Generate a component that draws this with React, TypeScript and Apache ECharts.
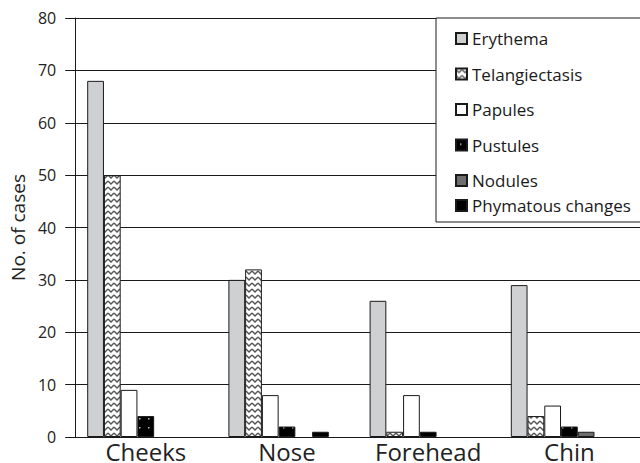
import React, { useEffect, useRef } from "react";
import * as echarts from "echarts";

const categories = ["Cheeks", "Nose", "Forehead", "Chin"];
const seriesNames = ["Erythema", "Telangiectasis", "Papules", "Pustules", "Nodules", "Phymatous changes"];
const erythema = [68, 30, 26, 29];
const telangiectasis = [50, 32, 1, 4];
const papules = [9, 8, 8, 6];
const pustules = [4, 2, 1, 2];
const nodules = [0, 0, 0, 1];
const phymatous = [0, 1, 0, 0];
const yTicks = { min: 0, max: 80, interval: 10 };

function zigzagPattern() {
  const c = document.createElement("canvas");
  c.width = 6;
  c.height = 6;
  const ctx = c.getContext("2d")!;
  ctx.fillStyle = "#ffffff";
  ctx.fillRect(0, 0, 6, 6);
  ctx.strokeStyle = "#555555";
  ctx.lineWidth = 1.4;
  ctx.beginPath();
  ctx.moveTo(0, 1);
  ctx.lineTo(3, 4);
  ctx.lineTo(6, 1);
  ctx.stroke();
  return { image: c, repeat: "repeat" } as any;
}

function dotPattern() {
  const c = document.createElement("canvas");
  c.width = 9;
  c.height = 9;
  const ctx = c.getContext("2d")!;
  ctx.fillStyle = "#000000";
  ctx.fillRect(0, 0, 9, 9);
  ctx.fillStyle = "#bbbbbb";
  ctx.fillRect(4, 4, 1.5, 1.5);
  return { image: c, repeat: "repeat" } as any;
}

export default function App() {
  const ref = useRef<HTMLDivElement>(null);
  useEffect(() => {
    if (!ref.current) return;
    const chart = echarts.init(ref.current, null, { renderer: "svg" });
    const font = "'Open Sans', sans-serif";
    const colors = ["#cfd0d2", zigzagPattern(), "#ffffff", dotPattern(), "#6e6e6e", "#000000"];
    const datasets = [erythema, telangiectasis, papules, pustules, nodules, phymatous];
    const series: any[] = datasets.map((d, i) => ({
      type: "bar",
      name: seriesNames[i],
      data: d.map((v) => (v === 0 ? "-" : v)),
      barGap: "0%",
      barCategoryGap: "17%",
      itemStyle: { color: colors[i], borderColor: "#1a1a1a", borderWidth: 1 },
    }));
    series.push({
      type: "bar",
      name: "spacer",
      data: ["-", "-", "-", "-"],
      barGap: "0%",
      barCategoryGap: "17%",
    });
    const legendText = { fontFamily: font, fontSize: 17, color: "#1a1a1a", lineHeight: 16 };
    chart.setOption({
      animation: false,
      backgroundColor: "#ffffff",
      grid: { left: 73, top: 18, bottom: 26, right: -8 },
      graphic: [
        {
          type: "rect",
          z: 5,
          shape: { x: 436, y: 18, width: 220, height: 204 },
          style: { fill: "#ffffff", stroke: "#1a1a1a", lineWidth: 1 },
        },
      ],
      legend: [
        {
          orient: "vertical",
          left: 455,
          top: 30,
          padding: 0,
          icon: "rect",
          itemWidth: 11,
          itemHeight: 11,
          itemGap: 18.5,
          z: 10,
          selectedMode: false,
          data: seriesNames.slice(0, 5),
          textStyle: legendText,
        },
        {
          orient: "vertical",
          left: 455,
          top: 197,
          padding: 0,
          icon: "rect",
          itemWidth: 11,
          itemHeight: 11,
          z: 10,
          selectedMode: false,
          data: seriesNames.slice(5),
          textStyle: legendText,
        },
      ],
      xAxis: {
        type: "category",
        data: categories,
        axisLine: { lineStyle: { color: "#1a1a1a", width: 1 } },
        axisTick: { length: 9, lineStyle: { color: "#1a1a1a" } },
        axisLabel: { fontFamily: font, fontSize: 24, lineHeight: 22, color: "#222222", margin: 3 },
      },
      yAxis: {
        type: "value",
        min: yTicks.min,
        max: yTicks.max,
        interval: yTicks.interval,
        name: "No. of cases",
        nameLocation: "middle",
        nameGap: 41,
        nameTextStyle: { fontFamily: font, fontSize: 19, color: "#222222" },
        axisLine: { show: true, lineStyle: { color: "#1a1a1a", width: 1 } },
        axisTick: { show: true, length: 10, lineStyle: { color: "#1a1a1a" } },
        axisLabel: { fontFamily: font, fontSize: 16, color: "#222222", margin: 19 },
        splitLine: { lineStyle: { color: "#1a1a1a", width: 1 } },
      },
      series,
    });
    return () => chart.dispose();
  }, []);
  return (
    <div
      ref={ref}
      style={{ position: "fixed", left: 0, top: 0, width: 640, height: 463 }}
    />
  );
}
